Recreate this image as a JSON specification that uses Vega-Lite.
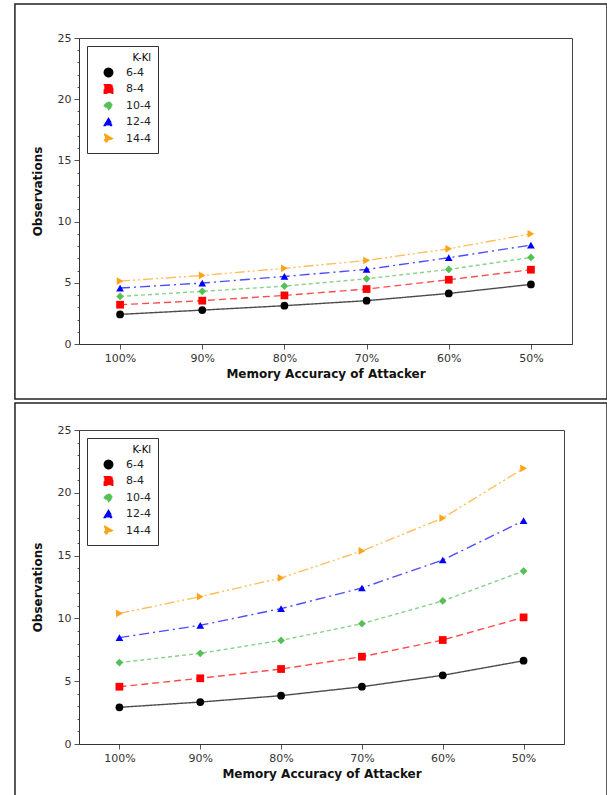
{
  "$schema": "https://vega.github.io/schema/vega-lite/v6.json",
  "padding": {"left": 13, "top": 2, "right": 0, "bottom": 0},
  "background": "white",
  "spacing": 0,
  "resolve": {
    "scale": {"color": "independent", "shape": "independent", "strokeDash": "independent"},
    "legend": {"color": "independent", "shape": "independent", "strokeDash": "independent"}
  },
  "config": {
    "font": "DejaVu Sans",
    "view": {"stroke": "#444", "strokeWidth": 1},
    "axis": {
      "grid": false,
      "labelFont": "DejaVu Sans",
      "labelFontSize": 11,
      "labelColor": "#333",
      "titleFont": "DejaVu Sans",
      "titleFontSize": 12,
      "titleFontWeight": "bold",
      "titleColor": "#111",
      "domainColor": "#333",
      "tickColor": "#555"
    }
  },
  "datasets": {
    "top": [
      {"acc": "100%", "series": "6-4", "obs": 2.42},
      {"acc": "90%", "series": "6-4", "obs": 2.77},
      {"acc": "80%", "series": "6-4", "obs": 3.13},
      {"acc": "70%", "series": "6-4", "obs": 3.54},
      {"acc": "60%", "series": "6-4", "obs": 4.13},
      {"acc": "50%", "series": "6-4", "obs": 4.87},
      {"acc": "100%", "series": "8-4", "obs": 3.21},
      {"acc": "90%", "series": "8-4", "obs": 3.54},
      {"acc": "80%", "series": "8-4", "obs": 3.97},
      {"acc": "70%", "series": "8-4", "obs": 4.49},
      {"acc": "60%", "series": "8-4", "obs": 5.25},
      {"acc": "50%", "series": "8-4", "obs": 6.07},
      {"acc": "100%", "series": "10-4", "obs": 3.89},
      {"acc": "90%", "series": "10-4", "obs": 4.30},
      {"acc": "80%", "series": "10-4", "obs": 4.73},
      {"acc": "70%", "series": "10-4", "obs": 5.33},
      {"acc": "60%", "series": "10-4", "obs": 6.09},
      {"acc": "50%", "series": "10-4", "obs": 7.07},
      {"acc": "100%", "series": "12-4", "obs": 4.57},
      {"acc": "90%", "series": "12-4", "obs": 4.98},
      {"acc": "80%", "series": "12-4", "obs": 5.52},
      {"acc": "70%", "series": "12-4", "obs": 6.09},
      {"acc": "60%", "series": "12-4", "obs": 7.05},
      {"acc": "50%", "series": "12-4", "obs": 8.08},
      {"acc": "100%", "series": "14-4", "obs": 5.14},
      {"acc": "90%", "series": "14-4", "obs": 5.60},
      {"acc": "80%", "series": "14-4", "obs": 6.18},
      {"acc": "70%", "series": "14-4", "obs": 6.83},
      {"acc": "60%", "series": "14-4", "obs": 7.78},
      {"acc": "50%", "series": "14-4", "obs": 9.00}
    ],
    "bottom": [
      {"acc": "100%", "series": "6-4", "obs": 2.92},
      {"acc": "90%", "series": "6-4", "obs": 3.34},
      {"acc": "80%", "series": "6-4", "obs": 3.85},
      {"acc": "70%", "series": "6-4", "obs": 4.56},
      {"acc": "60%", "series": "6-4", "obs": 5.47},
      {"acc": "50%", "series": "6-4", "obs": 6.63},
      {"acc": "100%", "series": "8-4", "obs": 4.56},
      {"acc": "90%", "series": "8-4", "obs": 5.23},
      {"acc": "80%", "series": "8-4", "obs": 5.97},
      {"acc": "70%", "series": "8-4", "obs": 6.95},
      {"acc": "60%", "series": "8-4", "obs": 8.28},
      {"acc": "50%", "series": "8-4", "obs": 10.08},
      {"acc": "100%", "series": "10-4", "obs": 6.48},
      {"acc": "90%", "series": "10-4", "obs": 7.22},
      {"acc": "80%", "series": "10-4", "obs": 8.25},
      {"acc": "70%", "series": "10-4", "obs": 9.58},
      {"acc": "60%", "series": "10-4", "obs": 11.39},
      {"acc": "50%", "series": "10-4", "obs": 13.77},
      {"acc": "100%", "series": "12-4", "obs": 8.47},
      {"acc": "90%", "series": "12-4", "obs": 9.45},
      {"acc": "80%", "series": "12-4", "obs": 10.78},
      {"acc": "70%", "series": "12-4", "obs": 12.42},
      {"acc": "60%", "series": "12-4", "obs": 14.65},
      {"acc": "50%", "series": "12-4", "obs": 17.78},
      {"acc": "100%", "series": "14-4", "obs": 10.40},
      {"acc": "90%", "series": "14-4", "obs": 11.73},
      {"acc": "80%", "series": "14-4", "obs": 13.22},
      {"acc": "70%", "series": "14-4", "obs": 15.37},
      {"acc": "60%", "series": "14-4", "obs": 17.99},
      {"acc": "50%", "series": "14-4", "obs": 21.95}
    ]
  },
  "vconcat": [
    {
      "width": 493,
      "height": 306,
      "layer": [
        {
          "data": {"values": [{}]},
          "mark": {"type": "rect", "filled": false, "stroke": "#222", "strokeWidth": 1.5},
          "encoding": {
            "x": {"datum": -0.13, "type": "quantitative", "scale": {"domain": [0, 1], "nice": false, "zero": false}, "axis": null},
            "x2": {"datum": 1.071},
            "y": {"datum": -0.1797, "type": "quantitative", "scale": {"domain": [0, 1], "nice": false, "zero": false}, "axis": null},
            "y2": {"datum": 1.111}
          }
        },
        {
          "data": {"name": "top"},
          "resolve": {"scale": {"x": "shared", "y": "shared"}},
          "encoding": {
            "x": {"field": "acc", "type": "ordinal", "sort": ["100%", "90%", "80%", "70%", "60%", "50%"], "scale": {"type": "point", "padding": 0.5},
              "axis": {"title": "Memory Accuracy of Attacker", "labelAngle": 0, "tickSize": 5, "labelPadding": 3, "titlePadding": 5}},
            "y": {"field": "obs", "type": "quantitative", "scale": {"domain": [0, 25], "nice": false},
              "axis": {"title": "Observations", "values": [0,1,2,3,4,5,6,7,8,9,10,11,12,13,14,15,16,17,18,19,20,21,22,23,24,25],
                "labelExpr": "datum.value % 5 === 0 ? datum.label : ''", "labelOverlap": false, "labelBound": false, "ticks": true,
                "tickSize": {"condition": {"test": "datum.value % 5 === 0", "value": 5}, "value": 2},
                "labelPadding": 3, "titlePadding": 13}},
            "color": {"field": "series", "type": "nominal",
              "scale": {"domain": ["6-4", "8-4", "10-4", "12-4", "14-4"], "range": ["#000000", "#ff0000", "#55c055", "#0000ff", "#ffa31a"]},
              "legend": {
                "title": "K-Kl", "orient": "top-left", "offset": 8,
                "titleFontSize": 10, "titleFontWeight": "normal", "titleAnchor": "end", "titlePadding": 4,
                "labelFontSize": 11, "labelFont": "DejaVu Sans", "labelColor": "#222",
                "strokeColor": "#333", "fillColor": "white", "padding": 7,
                "symbolSize": 70, "symbolOffset": 9, "labelOffset": 12, "rowPadding": 1.5,
                "symbolOpacity": 1
              }}
          },
          "layer": [
            {
              "mark": {"type": "line", "strokeWidth": 1.4, "opacity": 0.7},
              "encoding": {
                "strokeDash": {"field": "series", "type": "nominal",
                  "scale": {"domain": ["6-4", "8-4", "10-4", "12-4", "14-4"], "range": [[1, 0], [7, 4], [4, 3], [10, 4, 2, 4], [10, 3, 2, 3, 2, 3]]},
                  "legend": null}
              }
            },
            {
              "mark": {"type": "point", "filled": true, "opacity": 1, "size": 60},
              "encoding": {
                "shape": {"field": "series", "type": "nominal",
                  "scale": {"domain": ["6-4", "8-4", "10-4", "12-4", "14-4"], "range": ["circle", "square", "diamond", "triangle-up", "triangle-right"]},
                  "legend": null}
              }
            }
          ]
        }
      ],
      "resolve": {"scale": {"x": "independent", "y": "independent"}}
    },
    {
      "width": 485,
      "height": 314,
      "layer": [
        {
          "data": {"values": [{}]},
          "mark": {"type": "rect", "filled": false, "stroke": "#222", "strokeWidth": 1.5},
          "encoding": {
            "x": {"datum": -0.132, "type": "quantitative", "scale": {"domain": [0, 1], "nice": false, "zero": false}, "axis": null},
            "x2": {"datum": 1.0887},
            "y": {"datum": -0.18, "type": "quantitative", "scale": {"domain": [0, 1], "nice": false, "zero": false}, "axis": null},
            "y2": {"datum": 1.086}
          }
        },
        {
          "data": {"name": "bottom"},
          "resolve": {"scale": {"x": "shared", "y": "shared"}},
          "encoding": {
            "x": {"field": "acc", "type": "ordinal", "sort": ["100%", "90%", "80%", "70%", "60%", "50%"], "scale": {"type": "point", "padding": 0.5},
              "axis": {"title": "Memory Accuracy of Attacker", "labelAngle": 0, "tickSize": 5, "labelPadding": 3, "titlePadding": 5}},
            "y": {"field": "obs", "type": "quantitative", "scale": {"domain": [0, 25], "nice": false},
              "axis": {"title": "Observations", "values": [0,1,2,3,4,5,6,7,8,9,10,11,12,13,14,15,16,17,18,19,20,21,22,23,24,25],
                "labelExpr": "datum.value % 5 === 0 ? datum.label : ''", "labelOverlap": false, "labelBound": false, "ticks": true,
                "tickSize": {"condition": {"test": "datum.value % 5 === 0", "value": 5}, "value": 2},
                "labelPadding": 3, "titlePadding": 13}},
            "color": {"field": "series", "type": "nominal",
              "scale": {"domain": ["6-4", "8-4", "10-4", "12-4", "14-4"], "range": ["#000000", "#ff0000", "#55c055", "#0000ff", "#ffa31a"]},
              "legend": {
                "title": "K-Kl", "orient": "top-left", "offset": 8,
                "titleFontSize": 10, "titleFontWeight": "normal", "titleAnchor": "end", "titlePadding": 4,
                "labelFontSize": 11, "labelFont": "DejaVu Sans", "labelColor": "#222",
                "strokeColor": "#333", "fillColor": "white", "padding": 7,
                "symbolSize": 70, "symbolOffset": 9, "labelOffset": 12, "rowPadding": 1.5,
                "symbolOpacity": 1
              }}
          },
          "layer": [
            {
              "mark": {"type": "line", "strokeWidth": 1.4, "opacity": 0.7},
              "encoding": {
                "strokeDash": {"field": "series", "type": "nominal",
                  "scale": {"domain": ["6-4", "8-4", "10-4", "12-4", "14-4"], "range": [[1, 0], [7, 4], [4, 3], [10, 4, 2, 4], [10, 3, 2, 3, 2, 3]]},
                  "legend": null}
              }
            },
            {
              "mark": {"type": "point", "filled": true, "opacity": 1, "size": 60},
              "encoding": {
                "shape": {"field": "series", "type": "nominal",
                  "scale": {"domain": ["6-4", "8-4", "10-4", "12-4", "14-4"], "range": ["circle", "square", "diamond", "triangle-up", "triangle-right"]},
                  "legend": null}
              }
            }
          ]
        }
      ],
      "resolve": {"scale": {"x": "independent", "y": "independent"}}
    }
  ]
}
